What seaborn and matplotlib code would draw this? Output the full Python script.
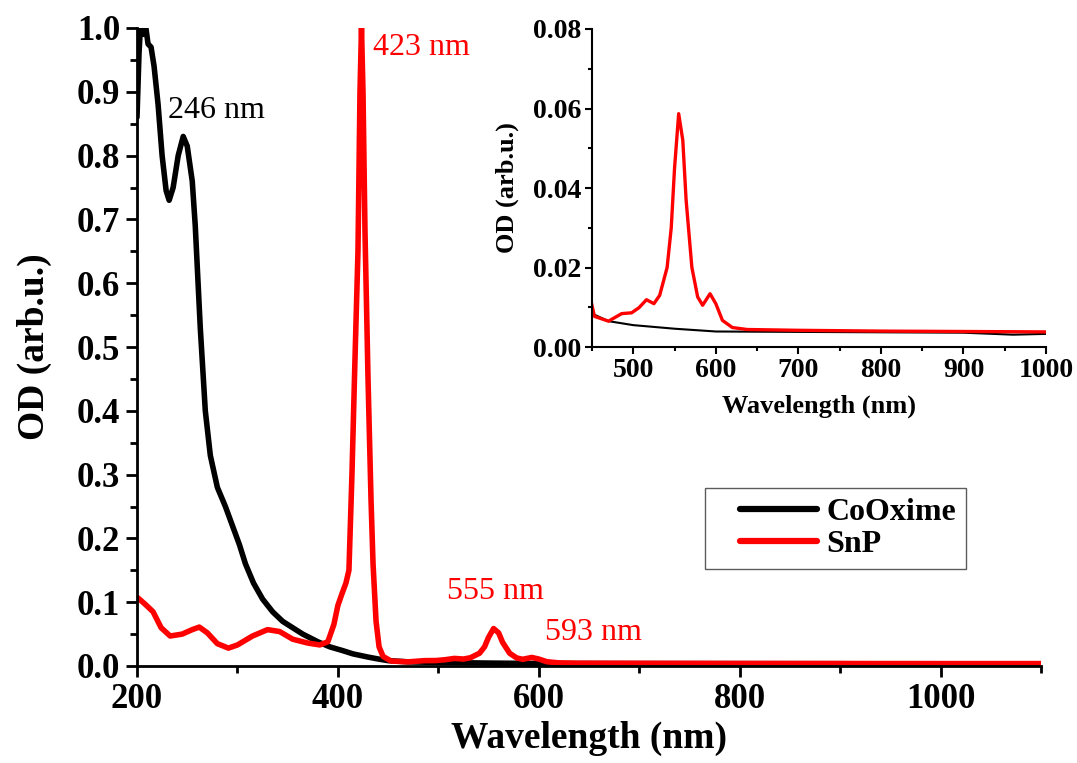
import numpy as np
import pandas as pd
import matplotlib
matplotlib.use("Agg")
import matplotlib.pyplot as plt
from matplotlib.ticker import MultipleLocator
from matplotlib.lines import Line2D
import seaborn as sns

# ---- data ----
wl_co = [200, 202, 204, 206, 208, 211, 214, 217, 221, 225, 229, 232, 236, 241, 246, 250,
         255, 258, 263, 268, 273, 280, 288, 295, 302, 308, 316, 325, 335, 345, 355, 365,
         380, 392, 405, 415, 430, 440, 450, 470, 500, 550, 600, 700, 800, 900, 960, 1000,
         1050, 1100]
od_co = [0.86, 0.96, 1.02, 0.99, 1.01, 0.975, 0.97, 0.94, 0.88, 0.80, 0.745, 0.73, 0.75,
         0.80, 0.83, 0.815, 0.76, 0.69, 0.53, 0.40, 0.33, 0.28, 0.25, 0.22, 0.19, 0.16,
         0.13, 0.105, 0.085, 0.07, 0.06, 0.05, 0.038, 0.03, 0.024, 0.019, 0.014, 0.011,
         0.0084, 0.0065, 0.0055, 0.0046, 0.0039, 0.0038, 0.0037, 0.0036, 0.0031, 0.0033,
         0.0033, 0.0033]

wl_snp = [200, 208, 216, 224, 233, 245, 255, 262, 270, 280, 291, 300, 315, 330, 342, 355,
          370, 382, 390, 396, 400, 404, 408, 411, 414, 417, 420, 422, 423.5, 425, 427, 430,
          433, 435, 438, 441, 445, 453, 470, 486, 498, 507, 516, 525, 532, 541, 546, 550,
          555, 560, 564, 571, 578, 584, 593, 600, 608, 620, 638, 700, 800, 900, 1000, 1100]
od_snp = [0.108, 0.097, 0.085, 0.06, 0.047, 0.05, 0.057, 0.061, 0.052, 0.035, 0.028, 0.033,
          0.047, 0.057, 0.054, 0.042, 0.036, 0.033, 0.038, 0.065, 0.095, 0.113, 0.13, 0.15,
          0.3, 0.48, 0.65, 0.9, 1.0, 0.9, 0.68, 0.45, 0.26, 0.16, 0.07, 0.03, 0.015, 0.0077,
          0.0065, 0.0084, 0.0086, 0.0099, 0.0119, 0.0109, 0.013, 0.020, 0.030, 0.045, 0.0587,
          0.052, 0.037, 0.020, 0.0126, 0.0105, 0.0134, 0.0109, 0.0067, 0.0049, 0.0044,
          0.0042, 0.0040, 0.0039, 0.0038, 0.0038]

series_names = ["CoOxime", "SnP"]
series_colors = ["#000000", "#ff0000"]

main_xticks = [200, 400, 600, 800, 1000]
main_yticks = [0.0, 0.1, 0.2, 0.3, 0.4, 0.5, 0.6, 0.7, 0.8, 0.9, 1.0]
inset_xticks = [500, 600, 700, 800, 900, 1000]
inset_yticks = [0.00, 0.02, 0.04, 0.06, 0.08]

annotations = [("246 nm", 231, 0.871, "#000000"),
               ("423 nm", 435, 0.970, "#ff0000"),
               ("555 nm", 509, 0.116, "#ff0000"),
               ("593 nm", 606, 0.052, "#ff0000")]

df = pd.concat([
    pd.DataFrame({"wl": wl_co, "od": od_co, "sample": "CoOxime"}),
    pd.DataFrame({"wl": wl_snp, "od": od_snp, "sample": "SnP"}),
], ignore_index=True)

sns.set_style("ticks")
plt.rcParams["font.family"] = ["Liberation Serif", "DejaVu Serif"]
plt.rcParams["font.weight"] = "bold"
plt.rcParams["axes.labelweight"] = "bold"
for key in ["text.color", "axes.labelcolor", "xtick.color", "ytick.color", "axes.edgecolor"]:
    plt.rcParams[key] = "black"

fig = plt.figure(figsize=(10.77, 7.63), dpi=100)
W, H = 1077, 763
ax = fig.add_axes([137 / W, 1 - 666 / H, (1041 - 137) / W, (666 - 28) / H])

palette = dict(zip(series_names, series_colors))
sns.lineplot(data=df, x="wl", y="od", hue="sample", palette=palette, ax=ax,
             linewidth=4.0, sort=False, estimator=None, legend=False)
ax.set_xlim(200, 1100)
ax.set_ylim(0, 1.0)
ax.set_xticks(main_xticks)
ax.set_yticks(main_yticks)
ax.set_yticklabels([f"{v:.1f}" for v in main_yticks])
ax.xaxis.set_minor_locator(MultipleLocator(100))
ax.yaxis.set_minor_locator(MultipleLocator(0.05))
ax.tick_params(axis="both", which="major", direction="out", length=8, width=2,
               labelsize=25, pad=4)
ax.tick_params(axis="both", which="minor", direction="out", length=5, width=2)
for lab in ax.get_xticklabels() + ax.get_yticklabels():
    lab.set_fontweight("bold")
for s in ["top", "right"]:
    ax.spines[s].set_visible(False)
for s in ["left", "bottom"]:
    ax.spines[s].set_linewidth(2)
ax.set_xlabel("Wavelength (nm)", fontsize=27, fontweight="bold", labelpad=4)
ax.set_ylabel("OD (arb.u.)", fontsize=27, fontweight="bold", labelpad=18)

for txt, x, y, c in annotations:
    ax.text(x, y, txt, color=c, fontsize=23, fontweight="normal", ha="left", va="center")

handles = [Line2D([], [], color=c, lw=4.5) for c in series_colors]
leg = ax.legend(handles, series_names, loc="upper left",
                bbox_to_anchor=(705 / W, 1 - 488 / H), bbox_transform=fig.transFigure,
                borderaxespad=0, fancybox=False, frameon=True, edgecolor="#333333",
                prop={"size": 23, "weight": "bold"}, handlelength=3.2,
                borderpad=0.3, labelspacing=0.1, handletextpad=0.3)
leg.get_frame().set_linewidth(1.0)
for ln in leg.get_lines():
    xd = np.asarray(ln.get_xdata(), dtype=float)
    yd = np.asarray(ln.get_ydata(), dtype=float)
    start = xd[0] + 0.25 * (xd[-1] - xd[0])
    ln.set_data(np.linspace(start, xd[-1], len(yd)), yd)

# ---- inset ----
axi = fig.add_axes([592 / W, 1 - 347 / H, (1046 - 592) / W, (347 - 29) / H])
dfi = df[(df["wl"] >= 440) & (df["wl"] <= 1010)]
sns.lineplot(data=dfi[dfi["sample"] == "CoOxime"], x="wl", y="od", color=series_colors[0],
             ax=axi, linewidth=1.5, sort=False, estimator=None, legend=False)
sns.lineplot(data=dfi[dfi["sample"] == "SnP"], x="wl", y="od", color=series_colors[1],
             ax=axi, linewidth=2.4, sort=False, estimator=None, legend=False)
axi.set_xlim(450, 1000)
axi.set_ylim(0, 0.08)
axi.set_xticks(inset_xticks)
axi.set_yticks(inset_yticks)
axi.set_yticklabels([f"{v:.2f}" for v in inset_yticks])
axi.xaxis.set_minor_locator(MultipleLocator(50))
axi.yaxis.set_minor_locator(MultipleLocator(0.01))
axi.tick_params(axis="both", which="major", direction="out", length=5, width=1.5,
                labelsize=20, pad=3)
axi.tick_params(axis="both", which="minor", direction="out", length=3, width=1.5)
for lab in axi.get_xticklabels() + axi.get_yticklabels():
    lab.set_fontweight("bold")
for s in ["top", "right"]:
    axi.spines[s].set_visible(False)
for s in ["left", "bottom"]:
    axi.spines[s].set_linewidth(1.5)
axi.set_xlabel("Wavelength (nm)", fontsize=19, fontweight="bold", labelpad=8)
axi.set_ylabel("OD (arb.u.)", fontsize=19, fontweight="bold", labelpad=10)
axi.patch.set_alpha(0)

fig.savefig("out.png", dpi=100)
